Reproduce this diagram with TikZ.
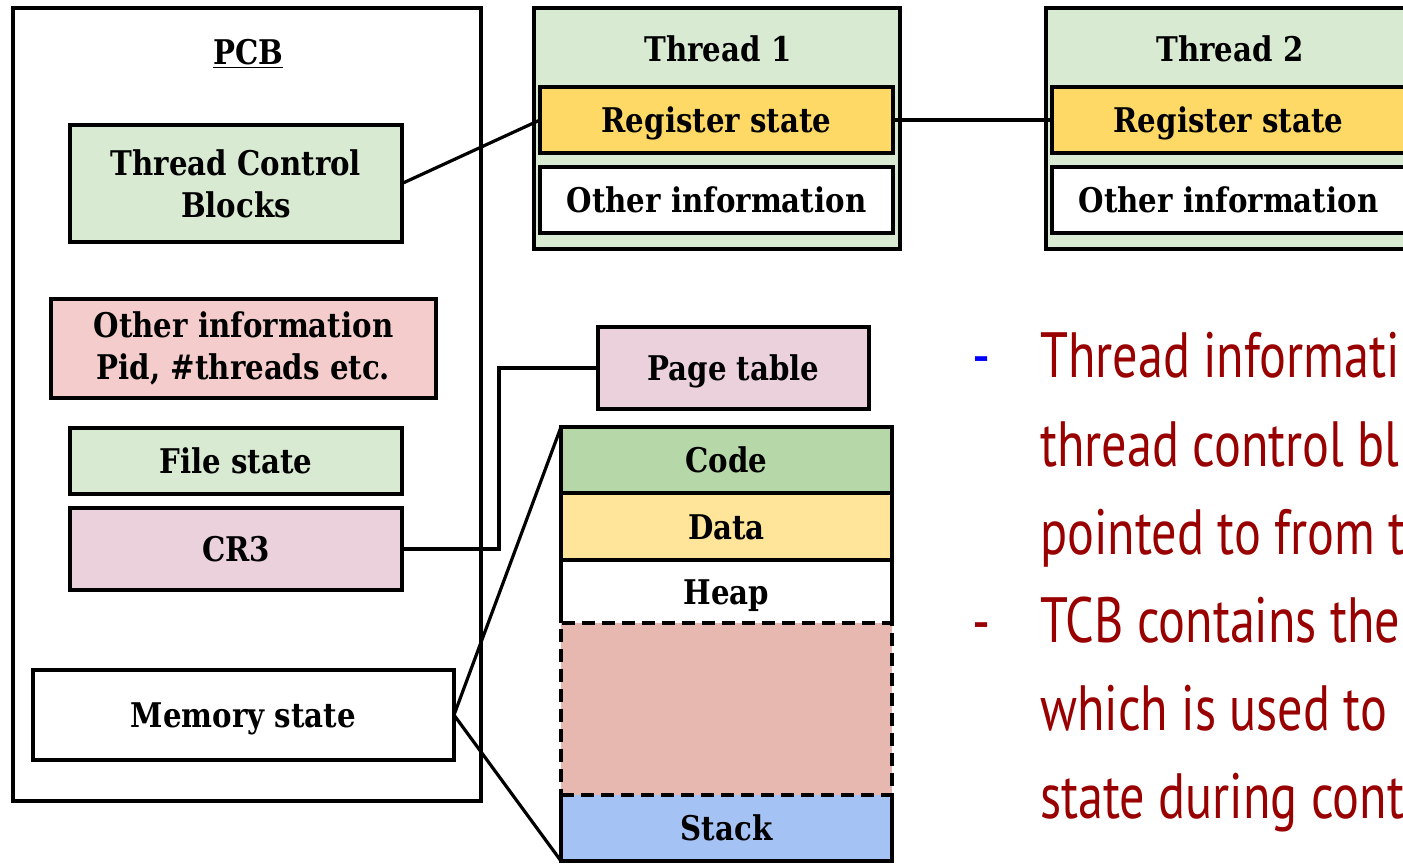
\documentclass[tikz,border=0pt]{standalone}
\usepackage{fontspec}
\setmainfont{DejaVu Serif}
\newfontfamily\boxfont[FakeStretch=0.86]{DejaVu Serif}
\newfontfamily\bodyfont[FakeStretch=0.785]{PT Sans}
\definecolor{lightgreen}{HTML}{D9EAD3}
\definecolor{lightred}{HTML}{F4CCCC}
\definecolor{lightpurple}{HTML}{EAD1DC}
\definecolor{regyellow}{HTML}{FFD966}
\definecolor{codegreen}{HTML}{B6D7A8}
\definecolor{datayellow}{HTML}{FFE599}
\definecolor{freered}{HTML}{E6B8AF}
\definecolor{stackblue}{HTML}{A4C2F4}
\definecolor{darkred}{HTML}{990000}

\begin{document}
\begin{tikzpicture}[x=1pt,y=-1pt,
    box/.style={draw, line width=3.2pt, inner sep=2pt, outer sep=0pt,
      font=\boxfont\bfseries\fontsize{34}{42}\selectfont},
    oneline/.style={text height=25pt, text depth=0pt},
    seg/.style={box, oneline, minimum width=331pt},
    bodyline/.style={anchor=base west, inner sep=0pt, text=darkred,
      font=\bodyfont\fontsize{64}{64}\selectfont},
    link/.style={line width=3.2pt}]

  \useasboundingbox (0,0) rectangle (1403,866);
  \clip (0,0) rectangle (1403,866);

  % PCB
  \node[box, minimum width=468pt, minimum height=793pt] (pcb) at (247,404.5) {};
  \node[box, draw=none, anchor=base] (pcbtitle) at (248,65) {\underline{PCB}};
  \node[box, fill=lightgreen, align=center, minimum width=332pt, minimum height=117pt] (tcb) at (236,183.5) {Thread Control\\Blocks};
  \node[box, fill=lightred, align=center, minimum width=385pt, minimum height=99pt] (pcbinfo) at (243.5,348.5) {Other information\\Pid, \#threads etc.};
  \node[box, oneline, fill=lightgreen, minimum width=332pt, minimum height=66pt] (filestate) at (236,461) {File state};
  \node[box, oneline, fill=lightpurple, minimum width=332pt, minimum height=82pt] (cr3) at (236,549) {CR3};
  \node[box, oneline, minimum width=421pt, minimum height=90pt] (memstate) at (243.5,715) {Memory state};

  % threads
  \foreach \n/\x in {1/717, 2/1229} {
    \node[box, fill=lightgreen, minimum width=366pt, minimum height=241pt] (thread\n) at (\x,128.5) {};
    \node[box, oneline, draw=none, anchor=base] (title\n) at ({\x+1},62) {Thread \n};
    \node[box, oneline, fill=regyellow, minimum width=353pt, minimum height=66pt] (reg\n) at ({\x-0.5},120) {Register state};
    \node[box, oneline, fill=white, minimum width=353pt, minimum height=66pt] (info\n) at ({\x-0.5},200) {Other information};
  }

  % address space
  \node[box, oneline, fill=lightpurple, minimum width=271pt, minimum height=82pt] (ptable) at (733.5,368) {Page table};
  \node[seg, fill=codegreen, minimum height=66pt] (code) at (726.5,460) {Code};
  \node[seg, fill=datayellow, minimum height=67pt] (data) at (726.5,526.5) {Data};
  \node[seg, draw=none, fill=white, minimum height=63pt] (heap) at (726.5,591.5) {Heap};
  \node[seg, draw=none, fill=stackblue, minimum height=66pt] (stack) at (726.5,828) {Stack};
  \node[seg, fill=freered, dash pattern=on 13pt off 7pt, minimum height=172pt] (free) at (726.5,709) {};
  \draw[box] (heap.south west) -- (heap.north west) -- (heap.north east) -- (heap.south east);
  \draw[box] (stack.north west) -- (stack.south west) -- (stack.south east) -- (stack.north east);

  % connectors
  \draw[link] (tcb.east) -- (reg1.west);
  \draw[link] (reg1.east) -- (reg2.west);
  \draw[link] (cr3.east) -- ++(97,0) |- (ptable.west);
  \draw[link] (code.north west) -- (memstate.east) -- (stack.south west);

  % notes
  \node[bodyline, text=blue] (dash1) at (972,378) {-};
  \node[bodyline] (dash2) at (972,643) {-};
  \foreach \t [count=\i] in {Thread informati, thread control bl, pointed to from t,
      TCB contains the, which is used to, state during cont} {
    \node[bodyline] (note\i) at (1040,{378+88*(\i-1)}) {\t};
  }
\end{tikzpicture}
\end{document}
